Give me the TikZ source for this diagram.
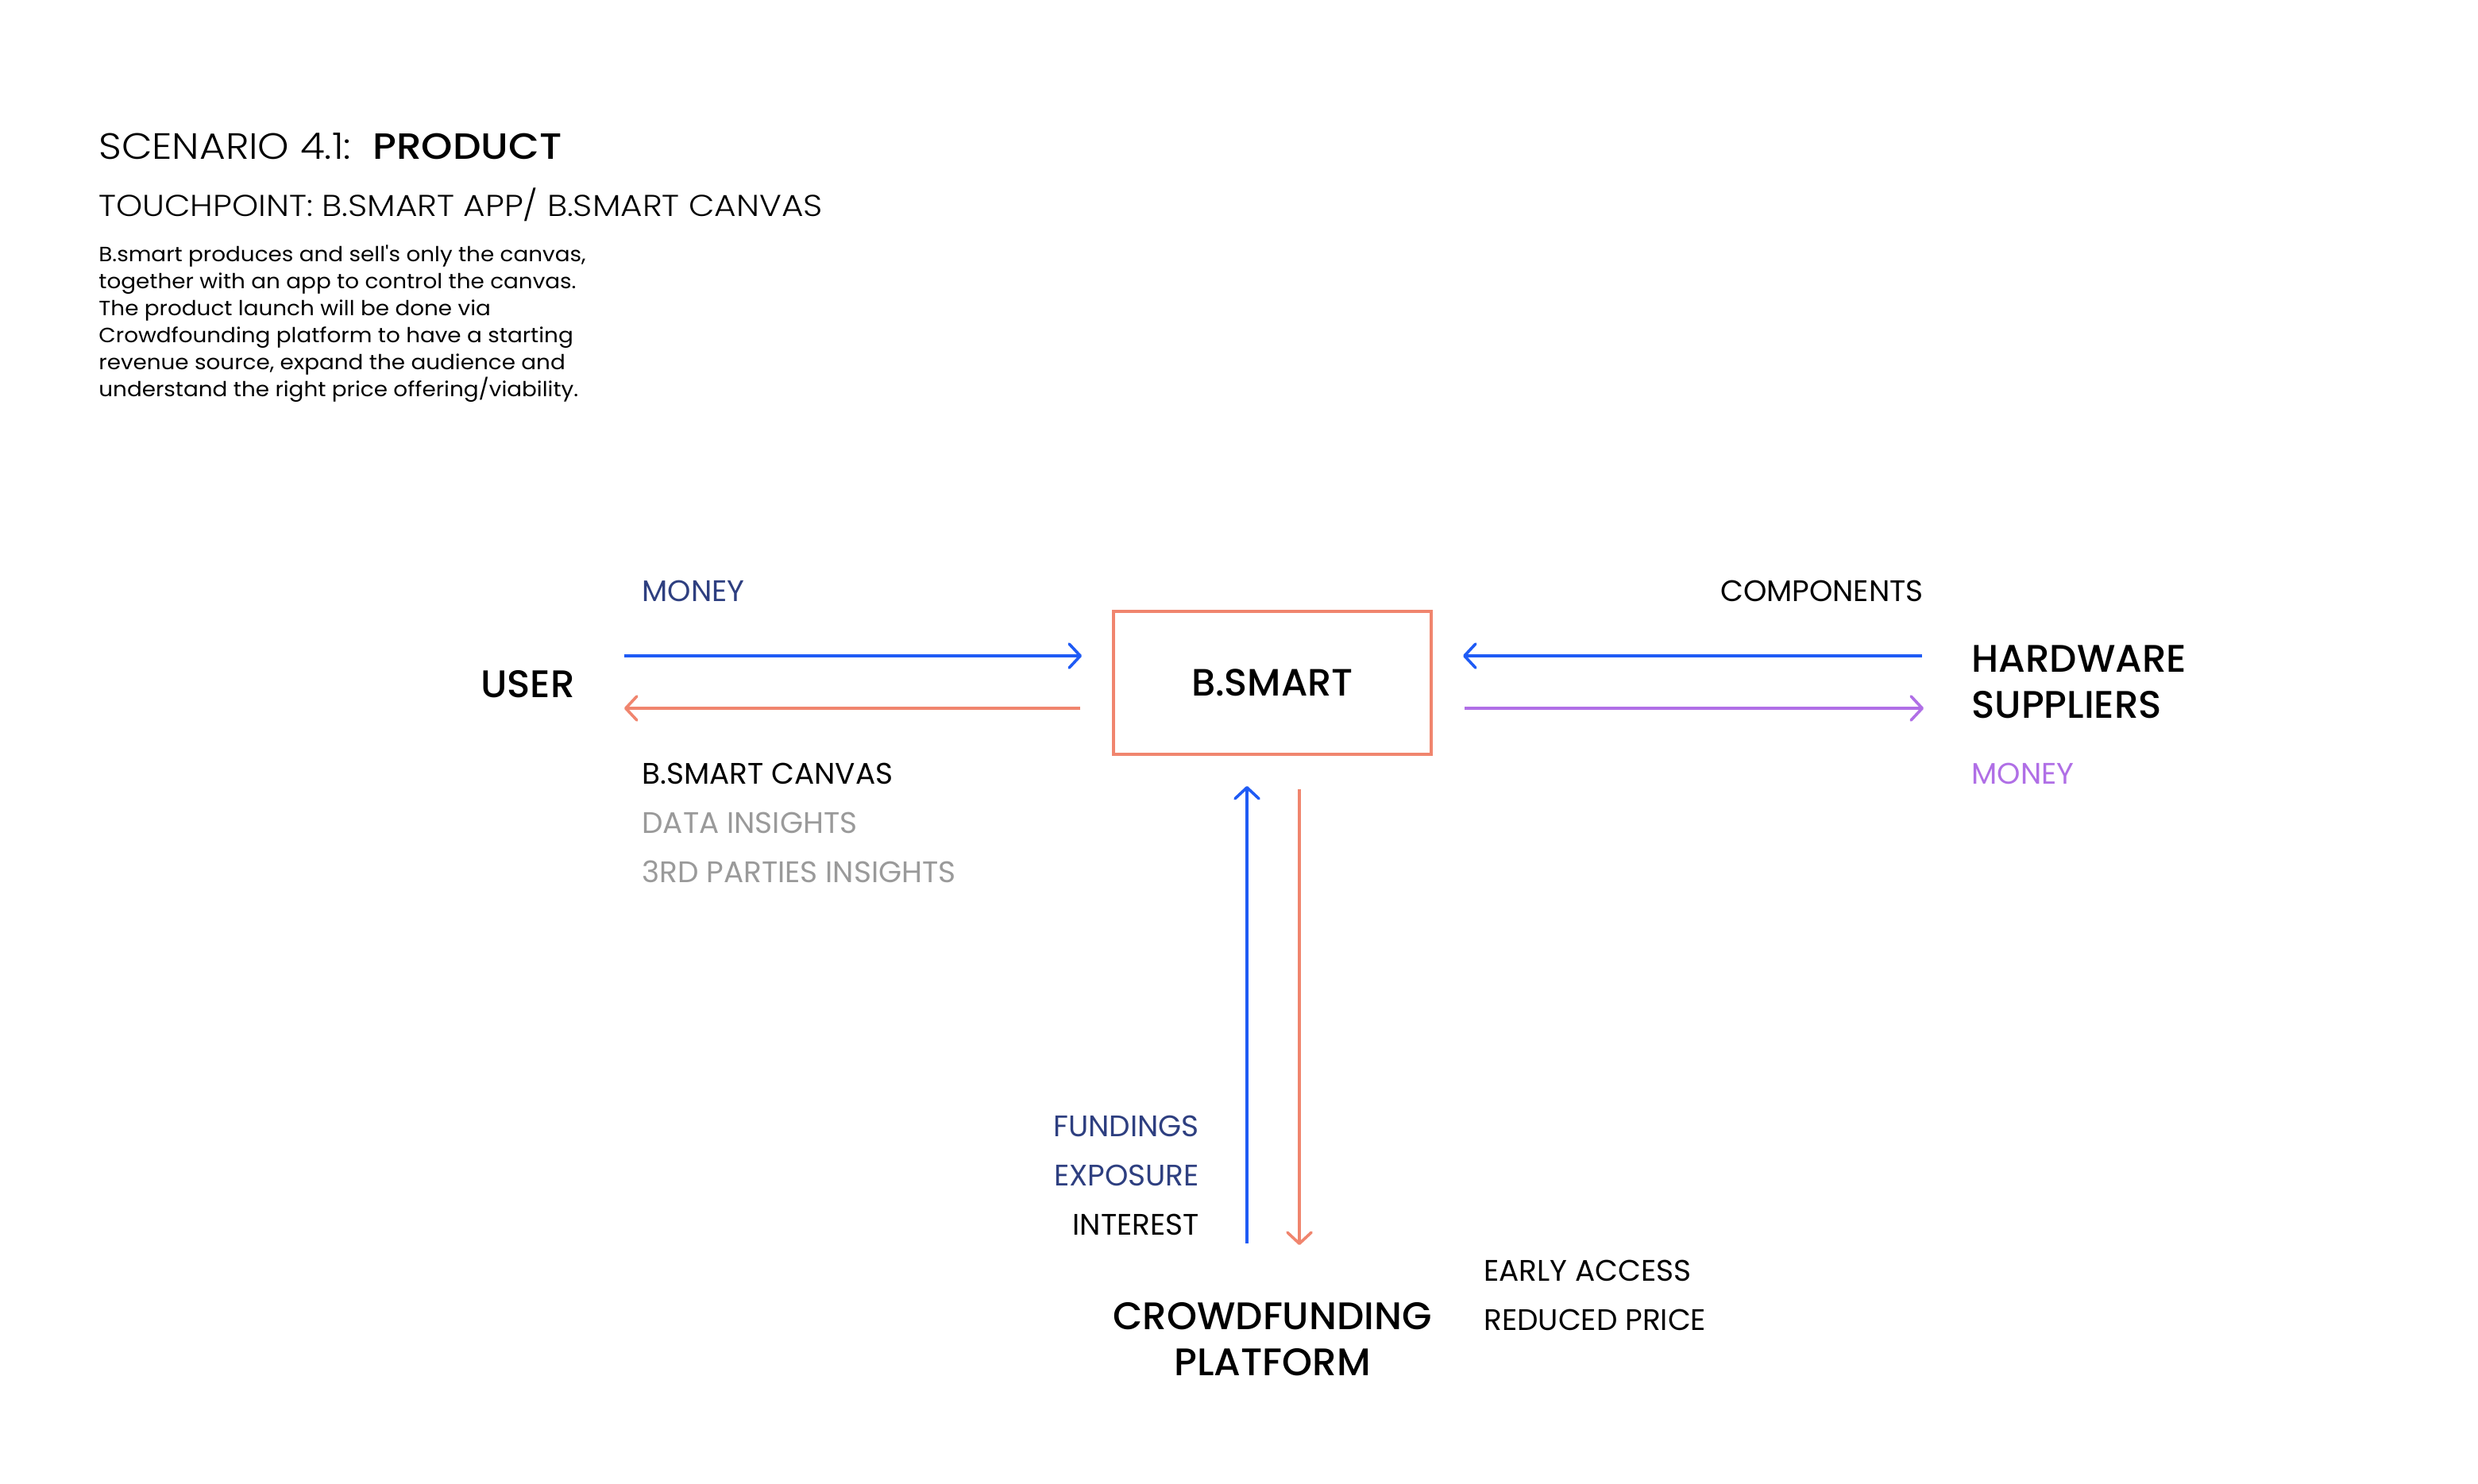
\documentclass[tikz,border=0pt]{standalone}
\usepackage{fontspec}
\setmainfont{Poppins}
\newfontfamily\plight{Poppins Light}[FakeStretch=1.09]
\newfontfamily\plightw{Poppins Light}[FakeStretch=1.11]
\newfontfamily\pmedw{Poppins Medium}[FakeStretch=1.09]
\newfontfamily\pmed{Poppins Medium}
\newfontfamily\pbody{Poppins}[FakeStretch=1.07]
\usetikzlibrary{arrows.meta}
\definecolor{cblue}{HTML}{1F5BF5}
\definecolor{corange}{HTML}{F0856E}
\definecolor{cpurple}{HTML}{B06FE6}
\definecolor{cnavy}{HTML}{2E3F80}
\definecolor{cgray}{HTML}{9A9A9A}
\tikzset{
  lbl/.style={inner sep=0pt, font=\fontsize{18.7}{22}\selectfont},
  big/.style={inner sep=0pt, font=\pmed\fontsize{24.2}{29}\selectfont},
  flow/.style={line width=1.8pt, -{Straight Barb[length=7pt,width=15pt,round]}},
  boxnode/.style={draw=corange, line width=1.6pt, minimum width=200pt, minimum height=90pt, inner sep=0pt, font=\pmed\fontsize{24}{29}\selectfont}
}
\begin{document}
\begin{tikzpicture}[x=1pt,y=-1pt]
\useasboundingbox[fill=white] (0,0) rectangle (1560,934);

% header
\node[inner sep=0pt, anchor=west] (title) at (62,92) {\fontsize{23}{28}\selectfont\plight SCENARIO 4.1:\ \ {\pmedw PRODUCT}};
\node[inner sep=0pt, anchor=west] (touch) at (62,129) {\fontsize{19}{24}\selectfont\plightw TOUCHPOINT: B.SMART APP/ B.SMART CANVAS};
\node[inner sep=0pt, anchor=north west, align=left, font=\pbody\fontsize{13}{17}\selectfont] (desc) at (62,154) {B.smart produces and sell's only the canvas,\\together with an app to control the canvas.\\The product launch will be done via\\Crowdfounding platform to have a starting\\revenue source, expand the audience and\\understand the right price offering/viability.};

% main nodes
\node[boxnode] (bsmart) at (801,430) {B.SMART};
\node[big, anchor=east] (user) at (362,431) {USER};
\node[big, anchor=west, align=left] (hw) at (1241,429.5) {HARDWARE\\SUPPLIERS};
\node[big, align=center] (crowd) at (801,843.5) {CROWDFUNDING\\PLATFORM};

% labels
\node[lbl, anchor=west, text=cnavy] (lmoney) at (404,372) {MONEY};
\node[lbl, anchor=west] (lcanvas) at (404,487) {B.SMART CANVAS};
\node[lbl, anchor=west, text=cgray] (ldata) at (404,518) {DATA INSIGHTS};
\node[lbl, anchor=west, text=cgray] (l3rd) at (404,549) {3RD PARTIES INSIGHTS};
\node[lbl, anchor=east] (lcomp) at (1211,372) {COMPONENTS};
\node[lbl, anchor=west, text=cpurple] (rmoney) at (1241,487) {MONEY};
\node[lbl, anchor=east, text=cnavy] (lfund) at (755,709) {FUNDINGS};
\node[lbl, anchor=east, text=cnavy] (lexp) at (755,740) {EXPOSURE};
\node[lbl, anchor=east] (lint) at (755,771) {INTEREST};
\node[lbl, anchor=west] (learly) at (934,800) {EARLY ACCESS};
\node[lbl, anchor=west] (lred) at (934,831) {REDUCED PRICE};

% connector ends
\coordinate (a1s) at (393,413);  \coordinate (a1e) at (681,413);
\coordinate (a2s) at (680,446);  \coordinate (a2e) at (393,446);
\coordinate (a3s) at (1210,413); \coordinate (a3e) at (921,413);
\coordinate (a4s) at (922,446);  \coordinate (a4e) at (1211,446);
\coordinate (a5s) at (785,783);  \coordinate (a5e) at (785,495);
\coordinate (a6s) at (818,497);  \coordinate (a6e) at (818,784);

\draw[flow, cblue] (a1s) -- (a1e);
\draw[flow, corange] (a2s) -- (a2e);
\draw[flow, cblue] (a3s) -- (a3e);
\draw[flow, cpurple] (a4s) -- (a4e);
\draw[flow, cblue] (a5s) -- (a5e);
\draw[flow, corange] (a6s) -- (a6e);
\end{tikzpicture}
\end{document}
